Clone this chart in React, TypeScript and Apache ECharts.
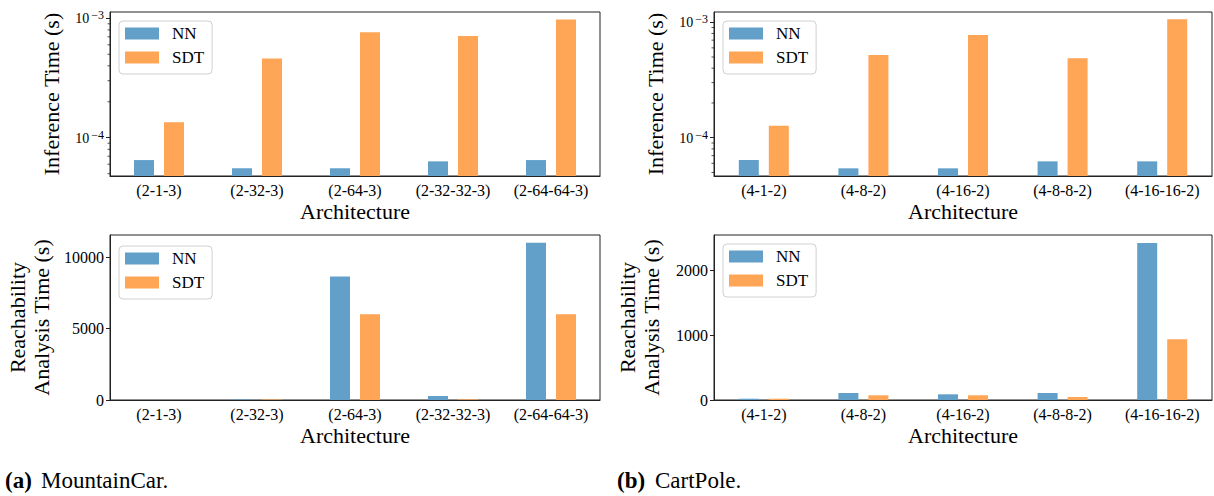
import React, { useEffect, useRef } from 'react';
import * as echarts from 'echarts';

const mcCategories = ['(2-1-3)', '(2-32-3)', '(2-64-3)', '(2-32-32-3)', '(2-64-64-3)'];
const cpCategories = ['(4-1-2)', '(4-8-2)', '(4-16-2)', '(4-8-8-2)', '(4-16-16-2)'];

const mcInferenceNN = [6.5e-5, 5.55e-5, 5.55e-5, 6.34e-5, 6.5e-5];
const mcInferenceSDT = [1.345e-4, 4.62e-4, 7.63e-4, 7.11e-4, 9.8e-4];
const mcReachNN = [2, 40, 8640, 280, 11000];
const mcReachSDT = [2, 40, 6000, 50, 6000];

const cpInferenceNN = [6.41e-5, 5.43e-5, 5.43e-5, 6.24e-5, 6.24e-5];
const cpInferenceSDT = [1.27e-4, 5.21e-4, 7.76e-4, 4.88e-4, 1.06e-3];
const cpReachNN = [20, 108, 88, 108, 2430];
const cpReachSDT = [20, 73, 73, 46, 941];

const logMajorTicks = [1e-4, 1e-3];
const logMinorTicks = [5e-5, 6e-5, 7e-5, 8e-5, 9e-5, 2e-4, 3e-4, 4e-4, 5e-4, 6e-4, 7e-4, 8e-4, 9e-4];
const mcReachTicks = [0, 5000, 10000];
const cpReachTicks = [0, 1000, 2000];

const FONT = "'Liberation Serif', 'Times New Roman', serif";
const NN_COLOR = '#62A0CA';
const SDT_COLOR = '#FFA556';
const AXIS_COLOR = '#222';

export default function App() {
  const ref = useRef<HTMLDivElement>(null);

  useEffect(() => {
    if (!ref.current) return;
    const chart = echarts.init(ref.current, undefined, { renderer: 'svg' });

    const grids = [
      { left: 110, top: 12, width: 490, height: 164 },
      { left: 110, top: 235, width: 490, height: 165 },
      { left: 714, top: 12, width: 498, height: 164 },
      { left: 714, top: 235, width: 498, height: 165 },
    ];

    const xAxis = [0, 1, 2, 3].map((i) => ({
      type: 'category',
      gridIndex: i,
      data: i < 2 ? mcCategories : cpCategories,
      axisLine: { lineStyle: { color: AXIS_COLOR, width: 1 } },
      axisTick: { alignWithLabel: true, length: 4, lineStyle: { color: AXIS_COLOR } },
      axisLabel: { fontSize: 16, color: '#000', margin: 6, fontFamily: FONT, interval: 0 },
      splitLine: { show: false },
      name: 'Architecture',
      nameLocation: 'middle',
      nameGap: 24,
      nameTextStyle: { fontSize: 22, color: '#000', fontFamily: FONT },
    }));

    const logLabel = {
      customValues: logMajorTicks,
      margin: 6,
      color: '#000',
      fontFamily: FONT,
      formatter: (v: number) => `{b|10}{s|\u2212${-Math.round(Math.log10(v))}}`,
      rich: {
        b: { fontSize: 14, fontFamily: FONT, color: '#000', padding: [1, 0, 0, 0] },
        s: { fontSize: 12, fontFamily: FONT, color: '#000', padding: [0, 0, 6, 2] },
      },
    };

    const logAxis = (gridIndex: number, min: number, max: number) => ({
      type: 'log',
      gridIndex,
      logBase: 10,
      min,
      max,
      startValue: min,
      axisLine: { show: true, lineStyle: { color: AXIS_COLOR, width: 1 } },
      axisTick: { show: true, customValues: logMajorTicks, length: 4, lineStyle: { color: AXIS_COLOR } },
      axisLabel: logLabel,
      splitLine: { show: false },
      minorTick: { show: false },
      name: 'Inference Time (s)',
      nameLocation: 'middle',
      nameGap: 48,
      nameTextStyle: { fontSize: 22, color: '#000', fontFamily: FONT },
    });

    const linAxis = (gridIndex: number, max: number, ticks: number[], gap: number) => ({
      type: 'value',
      gridIndex,
      min: 0,
      max,
      axisLine: { show: true, lineStyle: { color: AXIS_COLOR, width: 1 } },
      axisTick: { show: true, customValues: ticks, length: 4, lineStyle: { color: AXIS_COLOR } },
      axisLabel: {
        customValues: ticks,
        fontSize: 16,
        margin: 6,
        color: '#000',
        fontFamily: FONT,
        formatter: (v: number) => String(Math.round(v)),
      },
      splitLine: { show: false },
      name: 'Reachability\nAnalysis Time (s)',
      nameLocation: 'middle',
      nameGap: gap,
      nameTextStyle: { fontSize: 22, lineHeight: 24, color: '#000', fontFamily: FONT },
    });

    const yAxis = [
      logAxis(0, 4.78e-5, 1.13e-3),
      linAxis(1, 11550, mcReachTicks, 57),
      logAxis(2, 4.66e-5, 1.227e-3),
      linAxis(3, 2552, cpReachTicks, 51),
    ];

    const bar = (name: string, color: string, idx: number, data: number[]) => ({
      type: 'bar',
      name,
      xAxisIndex: idx,
      yAxisIndex: idx,
      data,
      barWidth: 20,
      barGap: '50%',
      itemStyle: { color },
      emphasis: { disabled: true },
    });

    const minor = (idx: number) => ({
      type: 'custom',
      name: 'minor',
      xAxisIndex: idx,
      yAxisIndex: idx,
      silent: true,
      clip: false,
      data: logMinorTicks.map((v) => [0, v]),
      renderItem: (params: any, api: any) => {
        const y = api.coord([0, api.value(1)])[1];
        const x = params.coordSys.x;
        return {
          type: 'line',
          shape: { x1: x - 2.5, y1: y, x2: x, y2: y },
          style: { stroke: AXIS_COLOR, lineWidth: 0.8 },
        };
      },
    });

    const series = [
      bar('NN', NN_COLOR, 0, mcInferenceNN),
      bar('SDT', SDT_COLOR, 0, mcInferenceSDT),
      bar('NN', NN_COLOR, 1, mcReachNN),
      bar('SDT', SDT_COLOR, 1, mcReachSDT),
      bar('NN', NN_COLOR, 2, cpInferenceNN),
      bar('SDT', SDT_COLOR, 2, cpInferenceSDT),
      bar('NN', NN_COLOR, 3, cpReachNN),
      bar('SDT', SDT_COLOR, 3, cpReachSDT),
      minor(0),
      minor(2),
    ];

    const legendAt = (left: number, top: number) => ({
      left,
      top,
      orient: 'vertical',
      data: [
        { name: 'NN', icon: 'rect' },
        { name: 'SDT', icon: 'rect' },
      ],
      selectedMode: false,
      itemWidth: 34,
      itemHeight: 12,
      itemGap: 7,
      padding: [4, 8, 8, 6],
      backgroundColor: 'rgba(255,255,255,0.8)',
      borderColor: '#d0d0d0',
      borderWidth: 1,
      borderRadius: 4,
      textStyle: { fontSize: 17, color: '#000', fontFamily: FONT, padding: [0, 0, 0, 8] },
    });

    const option: any = {
      animation: false,
      backgroundColor: '#fff',
      textStyle: { fontFamily: FONT },
      grid: grids.map((g) => ({ ...g, show: true, borderColor: AXIS_COLOR, borderWidth: 1, backgroundColor: 'transparent' })),
      xAxis,
      yAxis,
      series,
      legend: [legendAt(119, 21), legendAt(119, 246), legendAt(723, 21), legendAt(723, 244)],
      graphic: [
        { type: 'text', left: 5, top: 469, style: { text: '(a)', font: `bold 23px ${FONT}`, fill: '#000' } },
        { type: 'text', left: 41, top: 469, style: { text: 'MountainCar.', font: `23px ${FONT}`, fill: '#000' } },
        { type: 'text', left: 617, top: 469, style: { text: '(b)', font: `bold 23px ${FONT}`, fill: '#000' } },
        { type: 'text', left: 655, top: 469, style: { text: 'CartPole.', font: `23px ${FONT}`, fill: '#000' } },
      ],
    };

    chart.setOption(option);
    return () => chart.dispose();
  }, []);

  return (
    <div
      ref={ref}
      style={{ position: 'absolute', left: 0, top: 0, width: 1214, height: 496, background: '#fff' }}
    />
  );
}
